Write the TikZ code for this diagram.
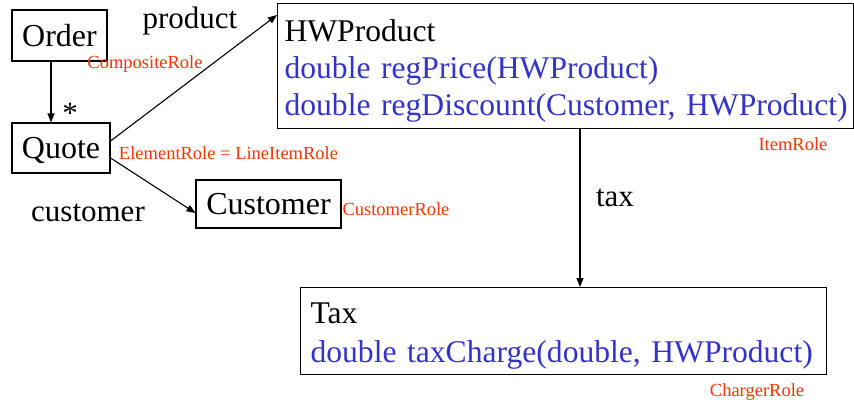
\documentclass[tikz,border=0pt]{standalone}
\usepackage{fontspec}
\setmainfont{Liberation Serif}
\usetikzlibrary{arrows.meta}
\definecolor{opblue}{RGB}{51,51,204}
\definecolor{rolered}{RGB}{255,51,0}
\begin{document}
\begin{tikzpicture}[x=1pt,y=-1pt,
    cls/.style={draw,line width=1.1pt,inner sep=0pt,text height=23pt,text depth=2pt,
      font=\fontsize{32}{37}\selectfont},
    multi/.style={draw,line width=1.1pt,anchor=north west,inner xsep=7pt,
      inner ysep=0pt,font=\fontsize{31.6}{37}\selectfont},
    role/.style={text=rolered,inner sep=0pt,font=\fontsize{18.5}{20}\selectfont},
    lbl/.style={inner sep=0pt,anchor=base,font=\fontsize{31}{37}\selectfont},
    assoc/.style={line width=1.1pt,-{Triangle[length=9pt,width=7pt]}}]
  \useasboundingbox (0,0) rectangle (854,402);
  % classes
  \node[cls,minimum width=95pt,minimum height=51pt] (order) at (59.5,35.5) {Order};
  \node[cls,minimum width=98pt,minimum height=50pt] (quote) at (61,148) {Quote};
  \node[cls,minimum width=145pt,minimum height=48pt] (cust) at (268.5,204) {Customer};
  \node[multi,text width=562pt,minimum height=125pt] (hw) at (277,3)
    {\rule{0pt}{31pt}HWProduct\\
     \textcolor{opblue}{double regPrice(HWProduct)}\\
     \textcolor{opblue}{\mbox{double regDiscount(Customer, HWProduct)}}};
  \node[multi,inner xsep=10pt,text width=506pt,minimum height=87pt] (tax) at (300,287)
    {\rule{0pt}{31pt}Tax\\[2pt]
     \textcolor{opblue}{double taxCharge(double, HWProduct)}};
  % roles
  \node[role] (compRole) at (145,64) {CompositeRole};
  \node[role] (elemRole) at (228.5,153) {ElementRole = LineItemRole};
  \node[role] (custRole) at (396,209) {CustomerRole};
  \node[role] (itemRole) at (793,144) {ItemRole};
  \node[role] (chrgRole) at (757,392) {ChargerRole};
  % associations
  \coordinate (hwin) at (277,15);
  \draw[assoc] (order.south -| 51,0) -- (quote.north -| 51,0);
  \draw[assoc] ([yshift=7pt]quote.east) -- (hwin);
  \draw[assoc] ([yshift=-10pt]quote.east) -- ([yshift=-9pt]cust.west);
  \draw[assoc] (hw.south -| 580,0) -- (tax.north -| 580,0);
  \node[lbl] (star) at (70,123) {*};
  \node[lbl] (prodLbl) at (190,28.5) {product};
  \node[lbl] (custLbl) at (88,221.5) {customer};
  \node[lbl] (taxLbl) at (615,206) {tax};
\end{tikzpicture}
\end{document}
